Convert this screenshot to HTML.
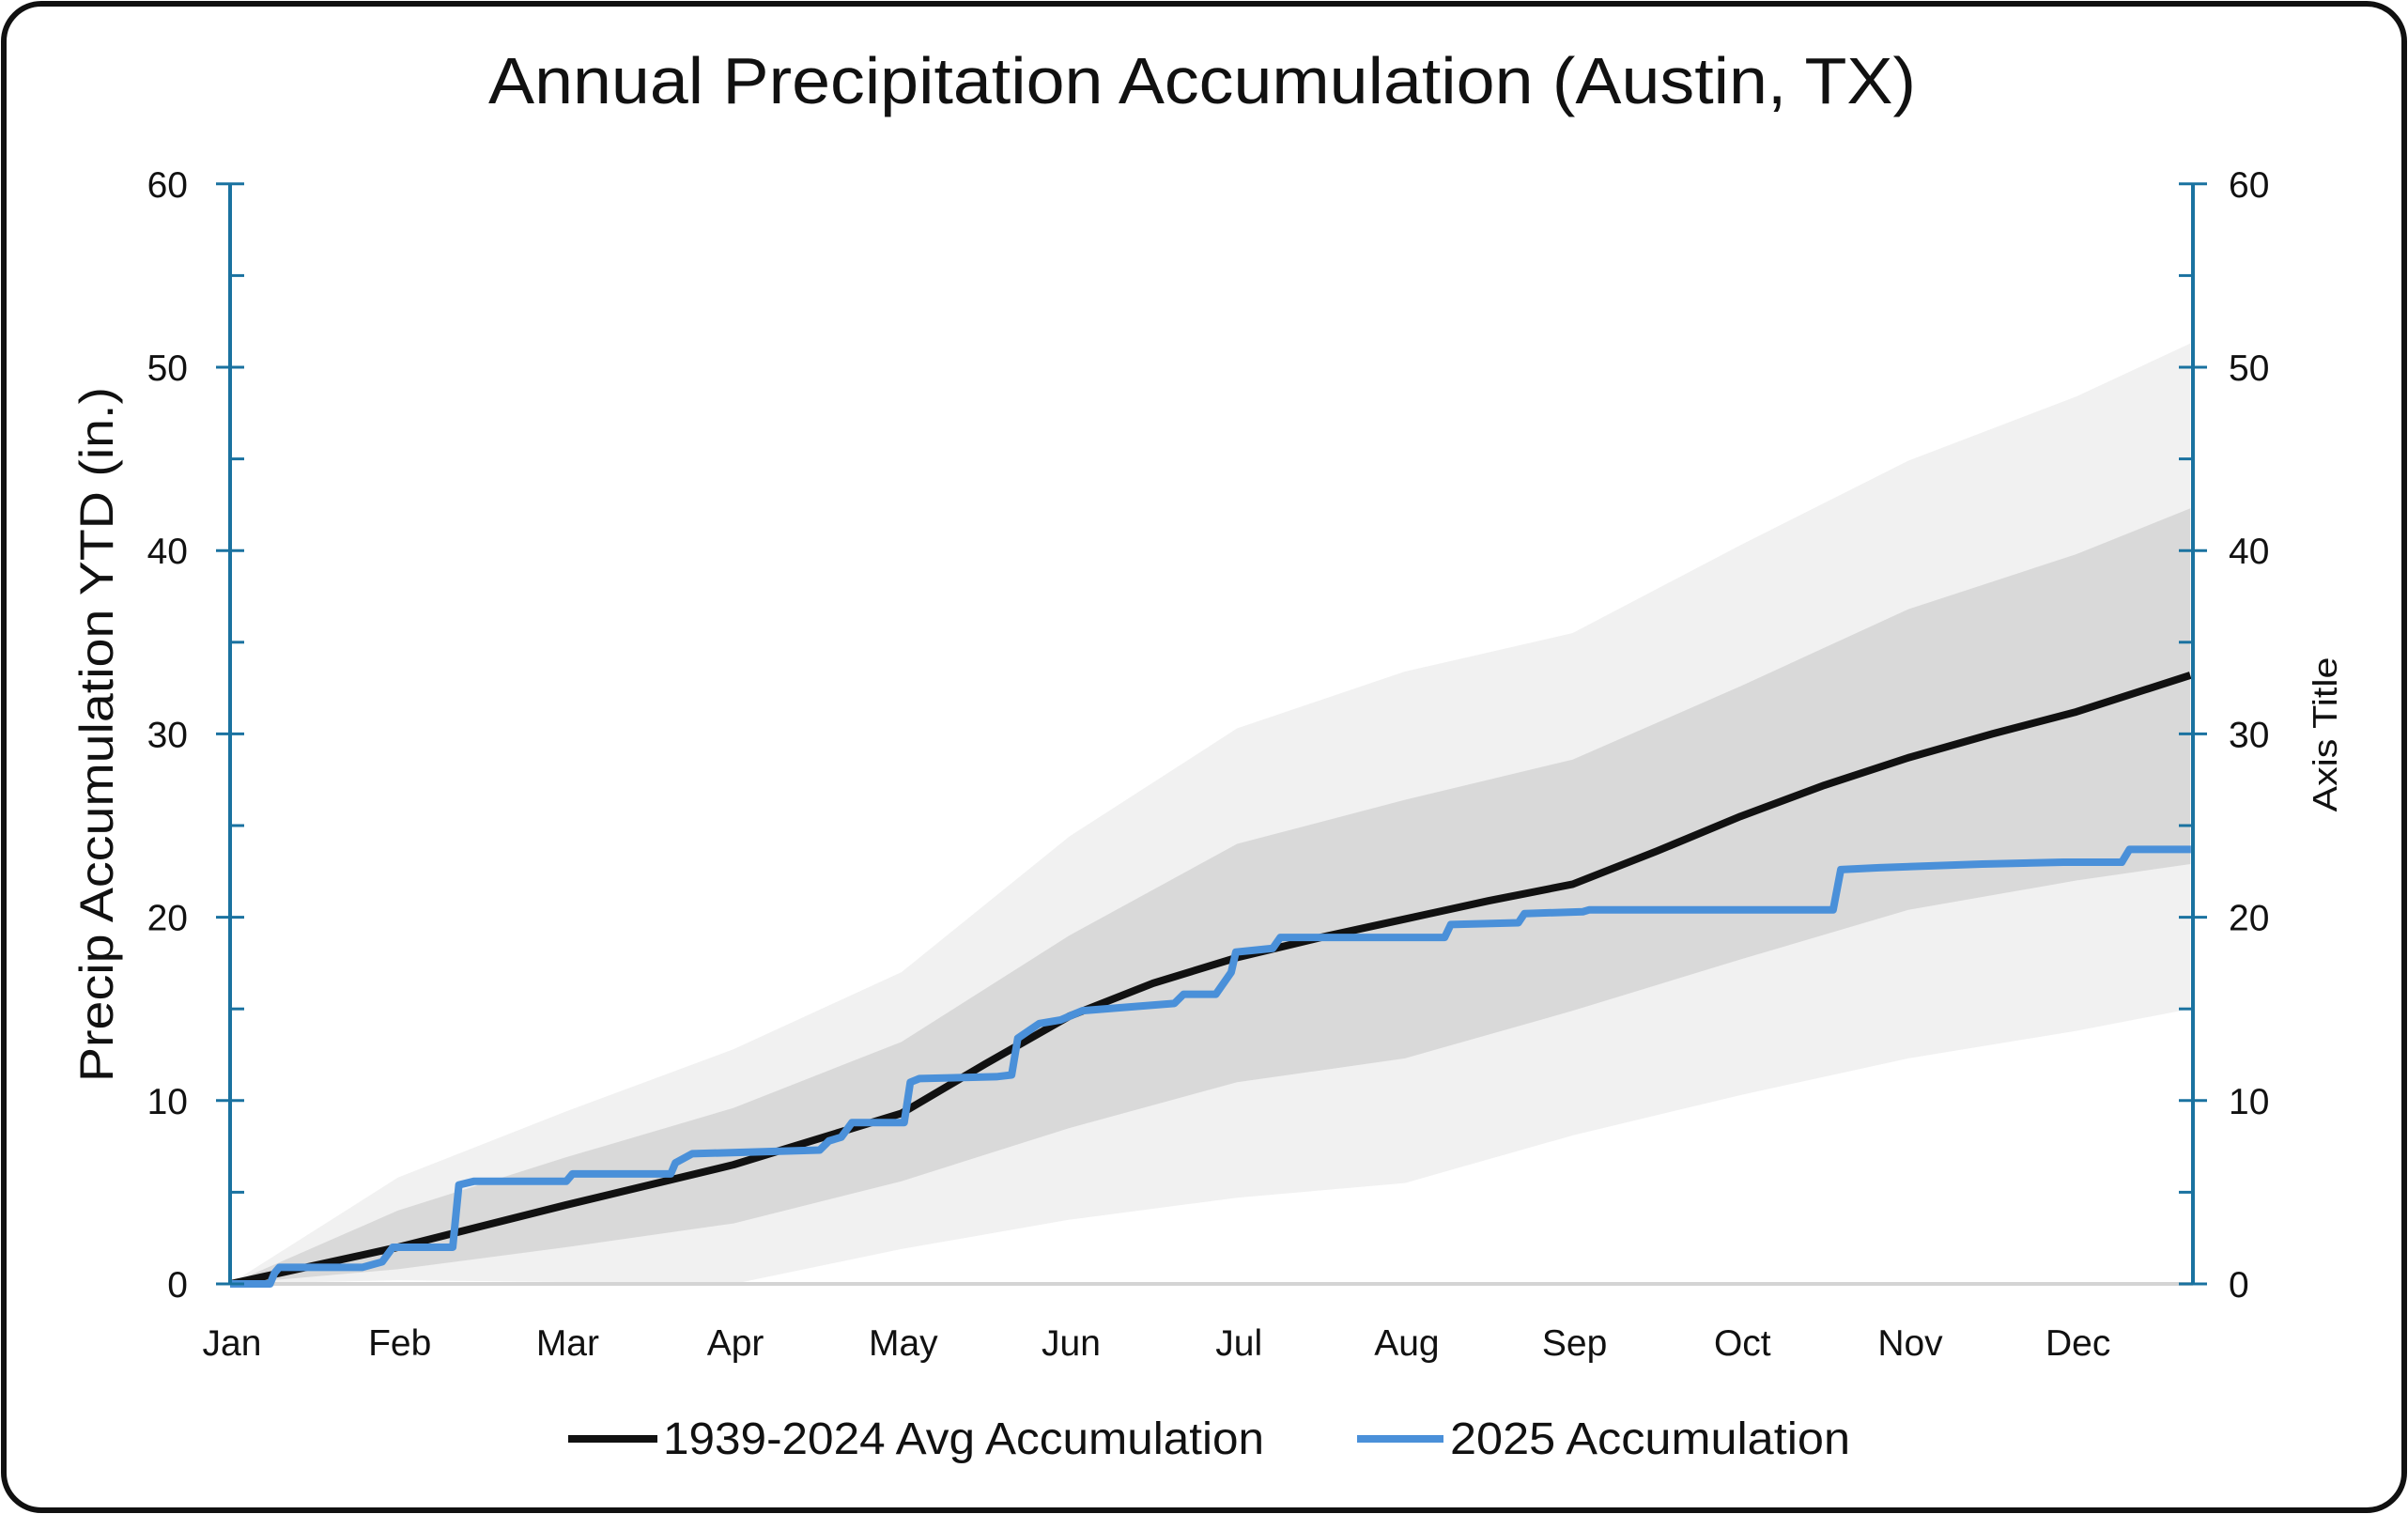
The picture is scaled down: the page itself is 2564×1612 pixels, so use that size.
<!DOCTYPE html>
<html><head><meta charset="utf-8"><style>
html,body{margin:0;padding:0;background:#fff;}
svg{display:block;font-family:"Liberation Sans",sans-serif;}
</style></head><body>
<svg id="chart" width="2564" height="1612" viewBox="0 0 2564 1612" xmlns="http://www.w3.org/2000/svg">
<rect x="4" y="4" width="2556" height="1604" rx="40" ry="40" fill="#fff" stroke="#111" stroke-width="6"/>
<text x="1280" y="110" font-size="70" text-anchor="middle" textLength="1520" lengthAdjust="spacingAndGlyphs" fill="#111">Annual Precipitation Accumulation (Austin, TX)</text>
<g id="bands"></g>
<line x1="245" y1="1367" x2="2335" y2="1367" stroke="#d4d4d4" stroke-width="4"/>
<g id="lines"></g>
<g id="axes"></g>
<text transform="translate(120,782) rotate(-90)" font-size="50" text-anchor="middle" textLength="740" lengthAdjust="spacingAndGlyphs" fill="#111">Precip Accumulation YTD (in.)</text>
<text transform="translate(2488,782) rotate(-90)" font-size="36" text-anchor="middle" textLength="165" lengthAdjust="spacingAndGlyphs" fill="#111">Axis Title</text>
<g>
<line x1="605" y1="1532" x2="700" y2="1532" stroke="#111" stroke-width="8"/>
<text x="706" y="1548" font-size="48" textLength="640" lengthAdjust="spacingAndGlyphs" fill="#111">1939-2024 Avg Accumulation</text>
<line x1="1445" y1="1532" x2="1537" y2="1532" stroke="#4a90d9" stroke-width="8"/>
<text x="1544" y="1548" font-size="48" textLength="426" lengthAdjust="spacingAndGlyphs" fill="#111">2025 Accumulation</text>
</g>
</svg>
<script>
const months = ["Jan","Feb","Mar","Apr","May","Jun","Jul","Aug","Sep","Oct","Nov","Dec"];
const yTicks = [0,10,20,30,40,50,60];
const bandX = [0,1,2,3,4,5,6,7,8,9,10,11,11.68];
const outerUpper = [0,5.8,9.4,12.8,17.0,24.4,30.3,33.4,35.5,40.3,44.9,48.4,51.3];
const innerUpper = [0,4.0,6.9,9.6,13.2,19.0,24.0,26.4,28.6,32.6,36.8,39.8,42.3];
const innerLower = [0,0.8,2.0,3.3,5.6,8.5,11.0,12.3,14.9,17.7,20.4,22.0,22.9];
const outerLower = [0,0.2,0.1,0,1.9,3.5,4.7,5.5,8.1,10.3,12.3,13.8,15.0];
const avgX = [0,1,2,3,4,4.5,5,5.5,6,6.5,7,7.5,8,8.5,9,9.5,10,10.5,11,11.68];
const avgVals = [0,2.0,4.3,6.5,9.3,12.0,14.6,16.4,17.8,18.9,19.9,20.9,21.8,23.6,25.5,27.2,28.7,30.0,31.2,33.2];
const obsPx = [151,177,180,183,237,250,257,296,300,310,370,374,438,441,452,535,541,549,556,590,594,600,650,660,664,678,692,706,766,772,793,803,806,830,835,942,946,990,994,1032,1036,1195,1200,1225,1292,1345,1383,1388,1428];
const obsVals = [0,0,0.6,0.9,0.9,1.2,2.0,2.0,5.4,5.6,5.6,6.0,6.0,6.6,7.1,7.3,7.8,8.0,8.8,8.8,11.0,11.2,11.3,11.4,13.4,14.2,14.4,14.9,15.3,15.8,15.8,17.0,18.1,18.3,18.9,18.9,19.6,19.7,20.2,20.3,20.4,20.4,22.6,22.7,22.9,23.0,23.0,23.7,23.7];

const NS="http://www.w3.org/2000/svg";
const X0=245, MW=178.7, Y0=1367, PU=19.52;
function xs(m){return X0+m*MW;}
function ys(v){return Y0-v*PU;}
function xPx(p){return (p-151)/109.3;}
function mk(tag,attrs,parent){const e=document.createElementNS(NS,tag);for(const k in attrs)e.setAttribute(k,attrs[k]);parent.appendChild(e);return e;}

const bands=document.getElementById('bands');
function band(top,bot,fill,name){
  let d="M"+bandX.map((m,i)=>xs(m)+","+ys(top[i])).join(" L");
  for(let i=bandX.length-1;i>=0;i--)d+=" L"+xs(bandX[i])+","+ys(bot[i]);
  const p=mk('path',{d:d+"Z",fill:fill},bands);
  
  
}
band(outerUpper,outerLower,"#f1f1f1","outer-range-band");
band(innerUpper,innerLower,"#d9d9d9","inner-range-band");

const lines=document.getElementById('lines');
const avg=mk('polyline',{points:avgX.map((m,i)=>xs(m)+","+ys(avgVals[i])).join(" "),fill:"none",stroke:"#111",'stroke-width':8,'stroke-linejoin':'round'},lines);


const obs=mk('polyline',{points:obsPx.map((p,i)=>xs(xPx(p))+","+ys(obsVals[i])).join(" "),fill:"none",stroke:"#4a90d9",'stroke-width':8,'stroke-linejoin':'round'},lines);



const axes=document.getElementById('axes');
const AC="#1a72a0";
[[245,-1],[2335,1]].forEach(([ax,side],ai)=>{
  const l=mk('line',{x1:ax,y1:ys(60),x2:ax,y2:ys(0),stroke:AC,'stroke-width':4},axes);
  
  
  for(let v=0;v<=60;v+=5){
    const major=v%10===0;
    const x1=major?ax-15:(ai?ax-15:ax), x2=major?ax+15:(ai?ax:ax+15);
    const t=mk('line',{x1:x1,y1:ys(v),x2:x2,y2:ys(v),stroke:AC,'stroke-width':3},axes);
    
    
  }
  yTicks.forEach(v=>{
    const t=mk('text',{x:ai?ax+38:ax-45,y:ys(v)+14,'font-size':39,'text-anchor':ai?'start':'end',fill:'#111'},axes);
    t.textContent=v;
    
    
  });
});
months.forEach((m,i)=>{
  const t=mk('text',{x:xs(i)+2,y:1443,'font-size':39,'text-anchor':'middle',fill:'#111'},axes);
  t.textContent=m;
  
  
});
</script>
</body></html>
